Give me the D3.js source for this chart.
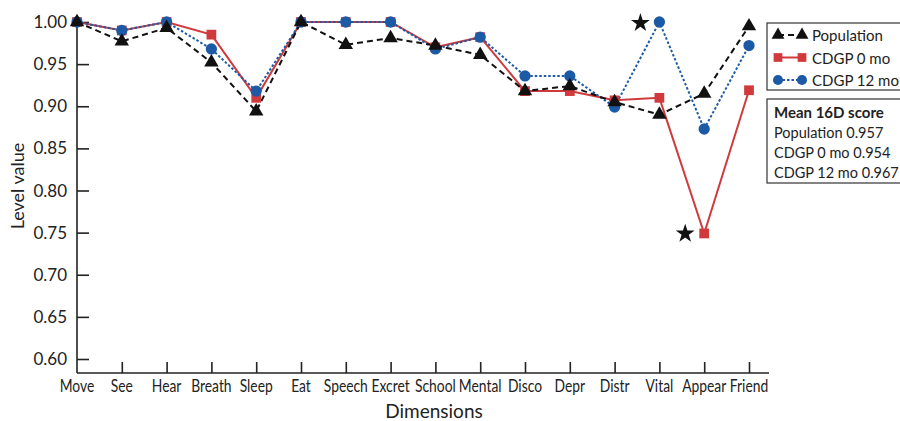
<!DOCTYPE html>
<html>
<head>
<meta charset="utf-8">
<script src="https://cdn.jsdelivr.net/npm/d3@7"></script>
<style>
body{margin:0;background:#fff;}
text{font-family:Lato,"Open Sans",sans-serif;fill:#222;}
</style>
</head>
<body>
<svg></svg>
<script>
const dims = ["Move","See","Hear","Breath","Sleep","Eat","Speech","Excret","School","Mental","Disco","Depr","Distr","Vital","Appear","Friend"];
const population = [1.000,0.977,0.993,0.952,0.894,1.000,0.973,0.981,0.972,0.961,0.918,0.924,0.905,0.890,0.915,0.995];
const cdgp0 = [1.000,0.990,1.000,0.985,0.910,1.000,1.000,1.000,0.970,0.982,0.918,0.918,0.907,0.910,0.749,0.919];
const cdgp12 = [1.000,0.990,1.000,0.968,0.918,1.000,1.000,1.000,0.968,0.982,0.936,0.936,0.899,1.000,0.873,0.972];
const yTicks = [0.60,0.65,0.70,0.75,0.80,0.85,0.90,0.95,1.00];
const stars = [{dim:"Vital",value:1.000},{dim:"Appear",value:0.750}];
const meanLines = ["Population 0.957","CDGP 0 mo 0.954","CDGP 12 mo 0.967"];

const canvasWidth = 900, canvasHeight = 421;
const plotLeft = 77, plotRight = 749, plotTop = 22, plotBottom = 373;

const svg = d3.select("svg").attr("width",canvasWidth).attr("height",canvasHeight);

const xScale = d3.scalePoint().domain(dims).range([plotLeft,plotRight]);
const yScale = d3.scaleLinear().domain([0.60,1.00]).range([359,plotTop]);

// axes
const xAxis = d3.axisTop(xScale).tickSize(11).tickFormat("");
const gx = svg.append("g").attr("transform","translate(0,"+plotBottom+")").call(xAxis);
gx.select(".domain").attr("d","M"+plotLeft+",0H769");
gx.selectAll(".tick").filter((d,i)=>i==0).remove();
gx.selectAll("line,path").style("stroke","#222").style("stroke-width",1.6);
svg.selectAll(".xlab").data(dims).enter().append("text")
    .attr("transform",d=>"translate("+xScale(d)+","+(plotBottom+19)+") scale(0.84,1)")
    .attr("text-anchor","middle")
    .style("font-size","16.5px")
    .text(d=>d);

const yAxis = d3.axisRight(yScale).tickValues(yTicks).tickSize(12).tickFormat("");
const gy = svg.append("g").attr("transform","translate("+plotLeft+",0)").call(yAxis);
gy.select(".domain").attr("d","M0,"+(plotTop-6)+"V"+plotBottom);
gy.selectAll("line,path").style("stroke","#222").style("stroke-width",1.6);
svg.selectAll(".ylab").data(yTicks).enter().append("text")
    .attr("x",plotLeft-10)
    .attr("y",d=>yScale(d)+6)
    .attr("text-anchor","end")
    .style("font-size","17px")
    .text(d=>d.toFixed(2));

svg.append("text").text("Level value")
    .attr("transform","translate(24,186) rotate(-90)")
    .attr("text-anchor","middle")
    .style("font-size","18px");
svg.append("text").text("Dimensions")
    .attr("x",434).attr("y",418)
    .attr("text-anchor","middle")
    .style("font-size","19px");

const series = [
    {name:"Population",values:population,color:"#111",dash:"6,4",shape:d3.symbolTriangle,size:90},
    {name:"CDGP 0 mo",values:cdgp0,color:"#d03a3c",dash:null,shape:d3.symbolSquare,size:95},
    {name:"CDGP 12 mo",values:cdgp12,color:"#1d5aa6",dash:"2.5,2",shape:d3.symbolCircle,size:100}
];

const line = d3.line().x((d,i)=>xScale(dims[i])).y(d=>yScale(d));
const order = [1,2,0];
order.forEach(function(k){
    const s = series[k];
    svg.append("path").attr("d",line(s.values))
        .attr("fill","none").attr("stroke",s.color)
        .attr("stroke-width",2).attr("stroke-dasharray",s.dash);
});
order.forEach(function(k){
    const s = series[k];
    svg.append("g").selectAll("path").data(s.values).enter().append("path")
        .attr("d",d3.symbol().type(s.shape).size(s.size))
        .attr("transform",(d,i)=>"translate("+xScale(dims[i])+","+yScale(d)+")")
        .attr("fill",s.color);
});

// significance stars
svg.selectAll(".star").data(stars).enter().append("path")
    .attr("d",d3.symbol().type(d3.symbolStar).size(110))
    .attr("transform",d=>"translate("+(xScale(d.dim)-19)+","+(yScale(d.value)+1)+")")
    .attr("fill","#111");

// legend
const lg = svg.append("g");
lg.append("rect").attr("x",767).attr("y",23).attr("width",140).attr("height",67)
    .attr("fill","#fff").attr("stroke","#333").attr("stroke-width",1.2);
series.forEach(function(s,i){
    const yy = 35+i*22.5;
    lg.append("line").attr("x1",778).attr("x2",802).attr("y1",yy).attr("y2",yy)
        .attr("stroke",s.color).attr("stroke-width",2).attr("stroke-dasharray",s.dash);
    [778,802].forEach(function(xx){
        lg.append("path").attr("d",d3.symbol().type(s.shape).size(s.size*0.8))
            .attr("transform","translate("+xx+","+yy+")").attr("fill",s.color);
    });
    lg.append("text").attr("x",812).attr("y",yy+6).text(s.name)
        .style("font-size","15px");
});
lg.append("rect").attr("x",767).attr("y",99).attr("width",140).attr("height",84)
    .attr("fill","#fff").attr("stroke","#333").attr("stroke-width",1.2);
lg.append("text").attr("x",774).attr("y",118).text("Mean 16D score")
    .style("font-size","15px").style("font-weight","bold");
lg.selectAll(".mean").data(meanLines).enter().append("text")
    .attr("x",774).attr("y",(d,i)=>138+i*20)
    .style("font-size","14.5px")
    .text(d=>d);
</script>
</body>
</html>
